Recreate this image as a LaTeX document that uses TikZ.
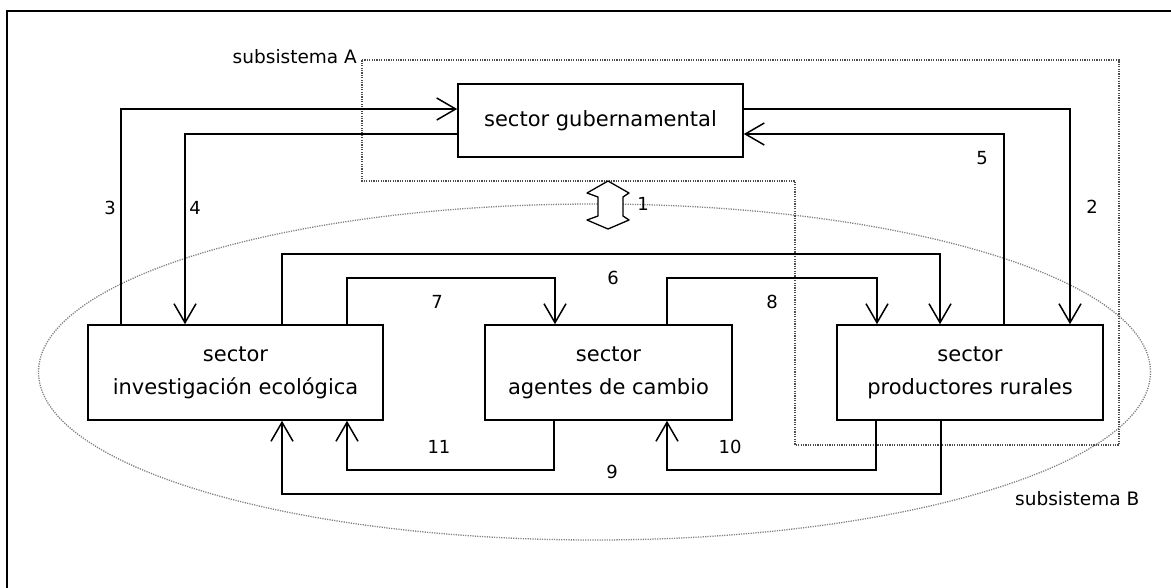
\documentclass[tikz,border=0pt]{standalone}
\usepackage{fontspec}
\setmainfont{DejaVu Sans}
\usetikzlibrary{arrows.meta}

\tikzset{
  sectorbox/.style={draw, line width=1.6pt, fill=white, align=center,
    inner sep=0pt, font=\fontsize{21}{33}\selectfont},
  arr/.style={line width=1.5pt, -{Straight Barb[length=19pt,width=22pt,line width=1.5pt]}},
  link/.style={line width=1.5pt},
  dotline/.style={line width=1.3pt, dash pattern=on 1.2pt off 1.2pt, color=black!70},
  ovaldot/.style={line width=1.3pt, dash pattern=on 1.2pt off 1.2pt, color=black!50},
  lbl/.style={font=\fontsize{18}{20}\selectfont, inner sep=0pt},
  sublbl/.style={font=\fontsize{18.5}{20}\selectfont, inner sep=0pt},
  bigarrow/.style={line width=1.3pt, fill=white, line join=round}
}

\begin{document}
\begin{tikzpicture}[x=1pt, y=-1pt]
  \useasboundingbox (0,0) rectangle (1171,587);
  \clip (0,0) rectangle (1171,587);

  % outer frame (runs off the page to the right and bottom)
  \draw[line width=1.8pt] (7,11) rectangle (1200,620);

  % subsystem B: dotted oval
  \draw[ovaldot] (594.5,372) ellipse [x radius=556pt, y radius=168pt];

  % subsystem A: dotted outline
  \draw[dotline] (362,60) -- (1119,60) -- (1119,445) -- (795,445)
                 -- (795,181) -- (362,181) -- cycle;

  % sectors
  \node[sectorbox, minimum width=285pt, minimum height=73pt] (gub) at (600.5,120.5)
    {sector gubernamental};
  \node[sectorbox, minimum width=295pt, minimum height=95pt] (inv) at (235.5,372.5)
    {sector\\investigación ecológica};
  \node[sectorbox, minimum width=247pt, minimum height=95pt] (age) at (608.5,372.5)
    {sector\\agentes de cambio};
  \node[sectorbox, minimum width=266pt, minimum height=95pt] (pro) at (970,372.5)
    {sector\\productores rurales};

  % subsystem labels
  \node[sublbl, anchor=base east] (subA) at (357,63) {subsistema A};
  \node[sublbl, anchor=base west] (subB) at (1015,505) {subsistema B};

  % flows between the government and the other sectors
  \draw[arr] (121,0 |- inv.north) |- (gub.west |- 0,109);
  \draw[arr] (gub.west |- 0,134) -| (185,0 |- inv.north);
  \draw[arr] (gub.east |- 0,109) -| (1070,0 |- pro.north);
  \draw[arr] (1004,0 |- pro.north) |- (gub.east |- 0,134);

  % flows among the sectors of subsystem B
  \draw[arr] (282,0 |- inv.north) -- (282,254) -| (940,0 |- pro.north);
  \draw[arr] (347,0 |- inv.north) -- (347,278) -| (555,0 |- age.north);
  \draw[arr] (667,0 |- age.north) -- (667,278) -| (877,0 |- pro.north);
  \draw[arr] (941,0 |- pro.south) -- (941,494) -| (282,0 |- inv.south);
  \draw[arr] (876,0 |- pro.south) -- (876,470) -| (667,0 |- age.south);
  \draw[arr] (554,0 |- age.south) -- (554,470) -| (347,0 |- inv.south);

  % exchange between subsystems A and B
  \draw[bigarrow] (608,181) -- (629,193) -- (623,197) -- (623,216) -- (629,220)
    -- (608,229) -- (587,220) -- (598,216) -- (598,197) -- (587,193) -- cycle;

  % flow numbers
  \node[lbl] (n1) at (643,204) {1};
  \node[lbl] (n2) at (1092,207) {2};
  \node[lbl] (n3) at (110,208) {3};
  \node[lbl] (n4) at (195,208) {4};
  \node[lbl] (n5) at (982,158) {5};
  \node[lbl] (n6) at (613,278) {6};
  \node[lbl] (n7) at (437,302) {7};
  \node[lbl] (n8) at (772,302) {8};
  \node[lbl] (n9) at (612,472) {9};
  \node[lbl] (n10) at (730,447) {10};
  \node[lbl] (n11) at (439,447) {11};
\end{tikzpicture}
\end{document}
